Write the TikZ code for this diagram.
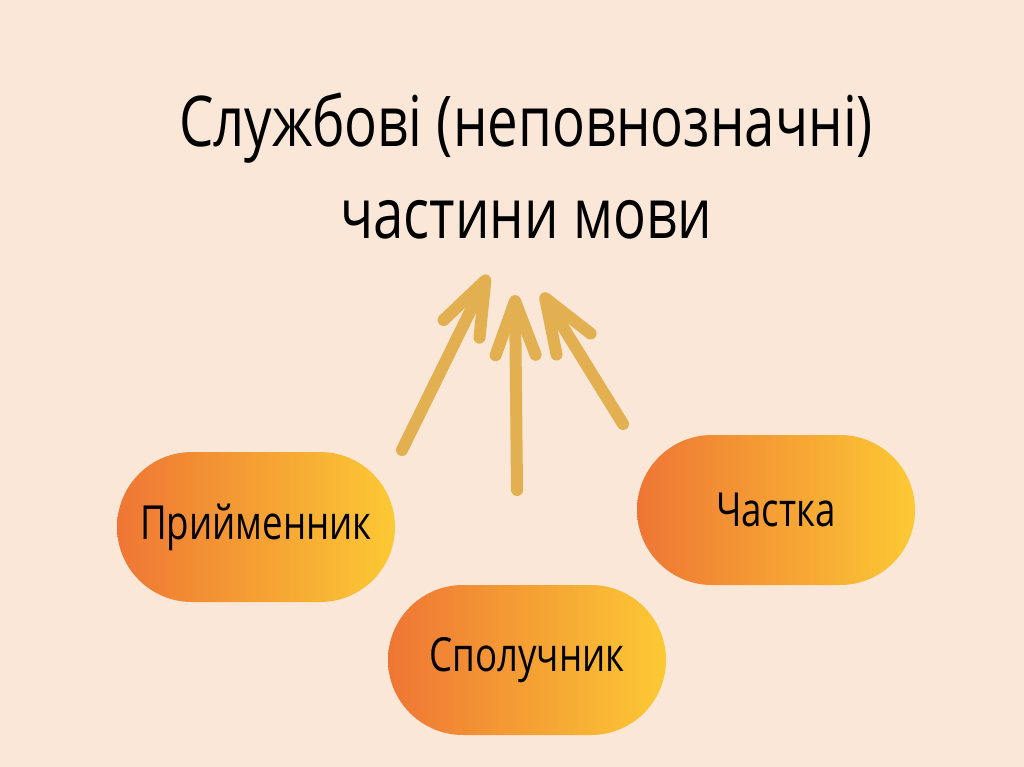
\documentclass[tikz,border=0pt]{standalone}
\usepackage{fontspec}
\setmainfont[FakeStretch=0.78]{Open Sans}
\usetikzlibrary{arrows.meta,shapes.misc}
\definecolor{bg}{HTML}{FAE7D8}
\definecolor{arr}{HTML}{E2B050}
\definecolor{pillL}{HTML}{EE7634}
\definecolor{pillR}{HTML}{FCC934}
\tikzset{
  pill/.style={rounded rectangle, minimum width=278pt, minimum height=150pt, inner sep=0pt,
    left color=pillL, right color=pillR, font=\fontsize{47}{50}\selectfont, text=black},
  title/.style={align=center, font=\fontsize{70}{92}\selectfont, text=black},
  upar/.style={draw=arr, line width=12pt, line cap=round,
    -{Straight Barb[length=54pt, width=40pt, round]}}
}
\begin{document}
\begin{tikzpicture}[x=1pt,y=-1pt]
\fill[bg] (0,0) rectangle (1024,767);
\useasboundingbox (0,0) rectangle (1024,767);
\node[title] (ttl) at (526,166) {Службові (неповнозначні)\\частини мови};
\node[pill] (prep) at (256,527) {Прийменник};
\node[pill] (part) at (776,510) {Частка};
\node[pill] (conj) at (527,660) {Сполучник};
\coordinate (s1) at (402,450);
\coordinate (s2) at (517,490);
\coordinate (s3) at (623,424);
\coordinate (e1) at (488,275);
\coordinate (e2) at (515,295);
\coordinate (e3) at (542,293);
\draw[upar] (s1) -- (e1);
\draw[upar] (s2) -- (e2);
\draw[upar] (s3) -- (e3);
\end{tikzpicture}
\end{document}
